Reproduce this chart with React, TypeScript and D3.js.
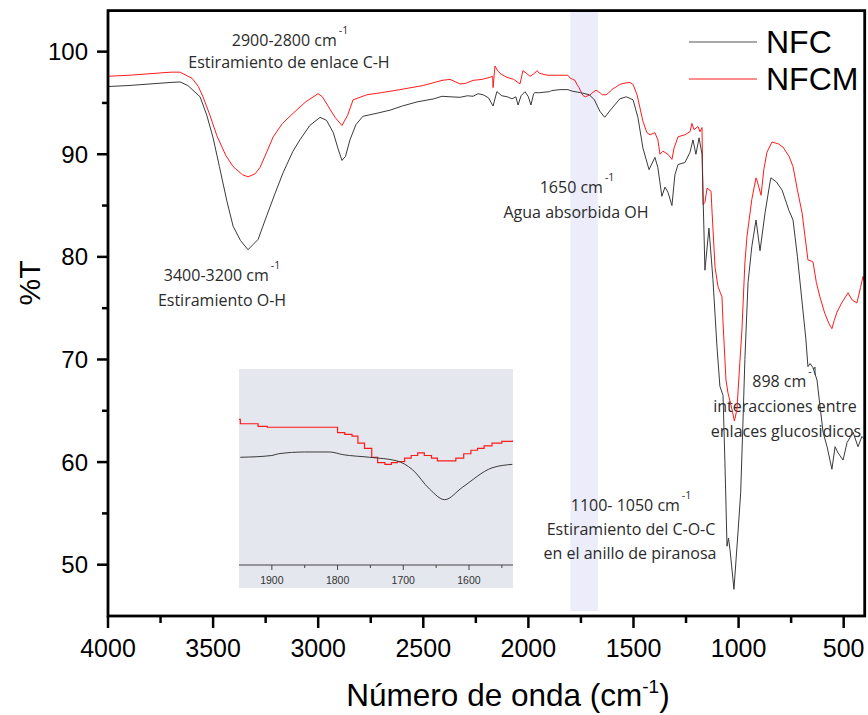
import React from "react";
import * as d3 from "d3";

// ---------- DATA ----------
const nfcWave = [4000,3900,3800,3700,3657,3620,3562,3530,3500,3470,3434,3405,3370,3334,3310,3286,3245,3205,3167,3120,3087,3040,2991,2960,2928,2905,2887,2870,2849,2820,2787,2720,2658,2600,2530,2450,2411,2373,2325,2290,2263,2240,2216,2190,2168,2150,2126,2100,2078,2060,2049,2035,2016,2000,1988,1975,1969,1948,1900,1890,1850,1812,1792,1751,1710,1686,1660,1637,1610,1565,1534,1502,1479,1455,1426,1398,1384,1365,1350,1336,1317,1303,1288,1255,1231,1217,1203,1188,1174,1160,1141,1122,1103,1089,1074,1065,1055,1048,1041,1022,1003,990,979,970,955,937,917,898,874,851,846,820,793,760,741,720,700,680,670,660,646,627,610,598,579,556,541,527,503,484,455,432,413,400];
const nfcT = [96.6,96.7,96.85,97.0,97.05,96.7,95.6,93.8,91.6,88.8,85.4,83.0,81.6,80.7,81.2,81.7,84.0,86.2,88.2,90.3,91.4,92.8,93.6,93.3,92.1,90.5,89.4,89.8,91.4,92.9,93.7,94.0,94.3,94.7,95.1,95.4,95.65,95.6,95.55,95.7,95.65,95.9,95.8,95.5,94.7,96.1,95.7,95.6,95.4,95.6,94.8,95.7,96.1,95.6,94.8,95.9,96.0,96.0,96.1,96.2,96.3,96.3,96.15,96.0,95.8,95.3,94.2,93.6,94.3,95.4,95.6,95.3,93.6,90.6,88.5,89.7,88.7,85.9,86.8,86.3,85.0,88.0,89.0,89.2,90.2,91.4,90.0,91.6,90.0,78.7,82.8,77.8,71.3,67.4,66.5,60.0,51.8,52.6,51.5,47.6,53.1,57.0,64.0,70.0,77.5,81.0,83.6,80.6,84.3,87.2,87.7,87.3,86.5,84.5,83.6,80.0,76.0,72.0,69.3,69.6,69.2,68.0,65.0,62.9,61.5,59.3,61.5,60.9,60.2,61.9,62.9,61.5,62.5,62.2];

const nfcmWave = [4000,3900,3800,3700,3657,3600,3570,3548,3515,3482,3440,3405,3360,3334,3300,3277,3245,3214,3170,3119,3060,3001,2980,2953,2920,2887,2860,2834,2768,2700,2611,2500,2411,2373,2325,2300,2263,2220,2183,2170,2168,2159,2145,2130,2102,2070,2040,2026,2010,1992,1970,1959,1948,1921,1907,1812,1800,1789,1778,1769,1759,1748,1739,1728,1718,1709,1698,1688,1678,1668,1657,1648,1630,1620,1608,1597,1587,1577,1565,1550,1534,1517,1502,1483,1469,1455,1436,1421,1398,1384,1374,1360,1336,1317,1307,1288,1255,1231,1222,1212,1193,1184,1174,1169,1160,1150,1131,1126,1112,1098,1079,1074,1060,1050,1031,1020,1008,994,984,970,960,937,917,913,893,880,865,841,810,789,760,741,720,698,670,655,646,630,613,590,570,556,545,532,510,479,460,437,420,408,400];
const nfcmT = [97.6,97.7,97.85,98.0,98.0,97.4,96.6,95.6,93.8,91.8,89.9,88.8,88.0,87.8,88.1,88.7,90.2,91.7,93.0,94.0,95.1,95.9,95.6,94.7,93.6,92.8,93.8,95.3,95.8,96.0,96.3,96.7,97.2,97.3,96.85,96.9,97.2,97.3,97.5,97.6,96.5,98.6,98.1,97.8,97.5,97.3,96.85,98.15,97.9,97.6,97.9,98.15,97.9,97.75,97.7,97.7,97.4,97.3,97.2,96.8,96.5,96.0,95.7,95.6,95.7,95.75,95.95,96.1,96.25,96.1,95.95,95.8,95.8,95.95,96.2,96.4,96.5,96.65,96.8,96.9,96.95,97.0,96.8,95.8,94.5,93.2,92.1,91.9,92.1,91.4,90.0,90.3,90.0,89.5,90.6,91.7,91.9,92.2,93.0,92.4,92.7,92.2,92.6,85.1,85.3,86.7,86.4,84.3,79.0,77.1,76.1,73.6,68.0,66.7,65.1,64.0,65.1,69.7,72.9,79.4,82.0,85.6,87.7,87.5,86.0,88.5,90.2,91.2,91.0,90.7,89.8,88.8,86.5,84.3,79.7,79.6,79.5,77.5,76.1,74.5,73.5,73.0,73.8,74.6,75.5,76.5,75.8,75.5,77.0,78.1,77.5];

const seriesNames = ["NFC", "NFCM"];
const xTicksMajor = [4000, 3500, 3000, 2500, 2000, 1500, 1000, 500];
const xTicksMinor = [3750, 3250, 2750, 2250, 1750, 1250, 750];
const yTicksMajor = [50, 60, 70, 80, 90, 100];
const yTicksMinor = [55, 65, 75, 85, 95];
const bandRange = [1800, 1670];
const insetTicksMajor = [1900, 1800, 1700, 1600];
const insetTicksMinor = [1850, 1750, 1650, 1550];
const insetDomain = [1950, 1533];

// ---------- LAYOUT ----------
const W = 868, H = 715;
const M = { left: 108, right: 864.7, top: 10.6, bottom: 616 };
const BLACK = "#3a3a3a";
const RED = "#ff1a1a";
const ANNOT_FONT = "'Open Sans', 'Noto Sans', sans-serif";
const AXIS_FONT = "'Liberation Sans', Arial, sans-serif";

type Pt = [number, number];
const zip = (a: number[], b: number[]): Pt[] => a.map((v, i) => [v, b[i]]);

export default function App() {
  const x = d3.scaleLinear().domain([4000, 400]).range([M.left, M.right]);
  const y = d3.scaleLinear().domain([45, 104]).range([M.bottom, M.top]);

  const nfc = zip(nfcWave, nfcT);
  const nfcm = zip(nfcmWave, nfcmT);

  const line = d3.line<Pt>().x(d => x(d[0])).y(d => y(d[1]));

  // inset
  const inset = { left: 239, right: 513, top: 369, bottom: 588, axisY: 565 };
  const ix = d3.scaleLinear().domain(insetDomain).range([inset.left, inset.right]);
  const iy = d3.scaleLinear().domain([89.9, 101]).range([inset.axisY, inset.top]);
  const inRange = (d: Pt) => d[0] <= 1960 && d[0] >= 1525;
  const iBlack = d3.line<Pt>().x(d => ix(d[0])).y(d => iy(d[1])).curve(d3.curveMonotoneX);
  const iRed = d3.line<Pt>().x(d => ix(d[0])).y(d => iy(d[1])).curve(d3.curveStepAfter);

  const annots = [
    { x: 290, y: 46, main: "2900-2800 cm", sup: "-1" },
    { x: 289, y: 68, main: "Estiramiento de enlace C-H" },
    { x: 222, y: 281, main: "3400-3200 cm", sup: "-1" },
    { x: 222, y: 306, main: "Estiramiento O-H" },
    { x: 577, y: 193, main: "1650 cm", sup: "-1" },
    { x: 576, y: 218, main: "Agua absorbida OH" },
    { x: 785, y: 387, main: "898 cm", sup: "-1" },
    { x: 785, y: 412, main: "interacciones entre" },
    { x: 786, y: 437, main: "enlaces glucosidicos" },
    { x: 631, y: 511, main: "1100- 1050 cm", sup: "-1" },
    { x: 631, y: 535, main: "Estiramiento del C-O-C" },
    { x: 630, y: 559, main: "en el anillo de piranosa" },
  ];

  return (
    <svg width={W} height={H} style={{ display: "block", position: "absolute", left: 0, top: 0 }}>
      <defs>
        <clipPath id="plotClip">
          <rect x={M.left} y={M.top} width={M.right - M.left} height={M.bottom - M.top} />
        </clipPath>
        <clipPath id="insetClip">
          <rect x={inset.left} y={inset.top} width={inset.right - inset.left} height={inset.axisY - inset.top} />
        </clipPath>
      </defs>
      <rect x={0} y={0} width={W} height={H} fill="#fff" />

      {/* shaded band */}
      <rect x={x(bandRange[0])} y={M.top} width={x(bandRange[1]) - x(bandRange[0])} height={M.bottom - M.top - 5} fill="#ececfb" />

      {/* annotations */}
      {annots.map((a, i) => (
        <text key={i} x={a.x} y={a.y} textAnchor="middle" fontFamily={ANNOT_FONT} fontSize={16} fill="#2b2b2b">
          {a.main}
          {a.sup && <tspan dx={2} dy={-12} fontSize={10.5}>{a.sup}</tspan>}
        </text>
      ))}

      {/* curves */}
      <g clipPath="url(#plotClip)">
        <path d={line(nfcm) || ""} fill="none" stroke={RED} strokeWidth={1} />
        <path d={line(nfc) || ""} fill="none" stroke={BLACK} strokeWidth={1} />
      </g>

      {/* inset */}
      <rect x={inset.left} y={inset.top} width={inset.right - inset.left} height={inset.bottom - inset.top} fill="#e4e7ee" />
      <g clipPath="url(#insetClip)">
        <path d={iRed(nfcm.filter(inRange)) || ""} fill="none" stroke={RED} strokeWidth={1.2} />
        <path d={iBlack(nfc.filter(inRange)) || ""} fill="none" stroke={BLACK} strokeWidth={1} />
      </g>
      <line x1={inset.left} x2={inset.right} y1={inset.axisY} y2={inset.axisY} stroke="#444" strokeWidth={1} />
      {insetTicksMajor.map(t => (
        <g key={t}>
          <line x1={ix(t)} x2={ix(t)} y1={inset.axisY} y2={inset.axisY + 5} stroke="#444" strokeWidth={1} />
          <text x={ix(t)} y={inset.axisY + 19} textAnchor="middle" fontFamily={AXIS_FONT} fontSize={10.5} fill="#333">{t}</text>
        </g>
      ))}
      {insetTicksMinor.map(t => (
        <line key={t} x1={ix(t)} x2={ix(t)} y1={inset.axisY} y2={inset.axisY + 3} stroke="#444" strokeWidth={1} />
      ))}

      {/* frame */}
      <rect x={M.left} y={M.top} width={M.right - M.left} height={M.bottom - M.top} fill="none" stroke="#000" strokeWidth={2.8} />

      {/* x axis ticks */}
      {xTicksMajor.map(t => (
        <g key={t}>
          <line x1={x(t)} x2={x(t)} y1={M.bottom} y2={M.bottom + 12} stroke="#000" strokeWidth={2.5} />
          <text x={x(t)} y={657} textAnchor="middle" fontFamily={AXIS_FONT} fontSize={25} fill="#000">{t}</text>
        </g>
      ))}
      {xTicksMinor.map(t => (
        <line key={t} x1={x(t)} x2={x(t)} y1={M.bottom} y2={M.bottom + 7} stroke="#000" strokeWidth={2.5} />
      ))}

      {/* y axis ticks */}
      {yTicksMajor.map(t => (
        <g key={t}>
          <line x1={M.left - 11} x2={M.left} y1={y(t)} y2={y(t)} stroke="#000" strokeWidth={2.5} />
          <text x={88} y={y(t) + 8.5} textAnchor="end" fontFamily={AXIS_FONT} fontSize={24} fill="#000">{t}</text>
        </g>
      ))}
      {yTicksMinor.map(t => (
        <line key={t} x1={M.left - 6} x2={M.left} y1={y(t)} y2={y(t)} stroke="#000" strokeWidth={2.5} />
      ))}

      {/* axis titles */}
      <text transform={`translate(40,283) rotate(-90)`} textAnchor="middle" fontFamily={AXIS_FONT} fontSize={30} fill="#000">%T</text>
      <text x={508} y={706} textAnchor="middle" fontFamily={AXIS_FONT} fontSize={31.5} fill="#000">
        Número de onda (cm<tspan dy={-13} fontSize={19}>-1</tspan><tspan dy={13}>)</tspan>
      </text>

      {/* legend */}
      {seriesNames.map((n, i) => (
        <g key={n}>
          <line x1={689} x2={757} y1={42 + i * 37} y2={42 + i * 37} stroke={i === 0 ? "#555" : RED} strokeWidth={1} />
          <text x={766} y={53 + i * 37} fontFamily={AXIS_FONT} fontSize={32} fill="#000">{n}</text>
        </g>
      ))}
    </svg>
  );
}
